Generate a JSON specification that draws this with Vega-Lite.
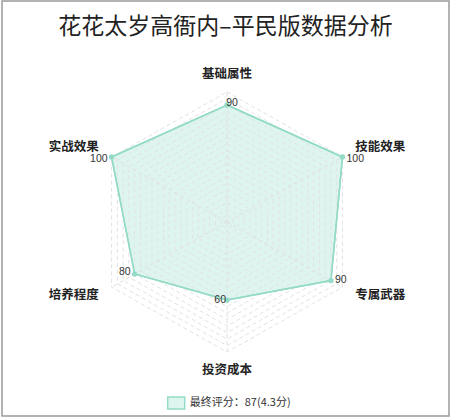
{
 "$schema": "https://vega.github.io/schema/vega-lite/v6.json",
 "width": 453,
 "height": 417,
 "autosize": {"type": "fit", "contains": "padding"},
 "padding": {"left": 2, "top": 1, "right": 4, "bottom": 1},
 "background": "white",
 "config": {"view": {"stroke": "#9a9a9a", "strokeWidth": 1.5}, "font": "Noto Sans CJK SC"},
 "title": {"text": "花花太岁高衙内–平民版数据分析", "fontSize": 23, "fontWeight": "normal", "color": "#222222", "font": "Noto Sans CJK SC", "anchor": "middle", "frame": "group", "offset": -38},
 "datasets": {
  "scores": [
   {"axis": "基础属性", "value": 90, "k": 0, "series": "最终评分：87(4.3分)"},
   {"axis": "技能效果", "value": 100, "k": 1, "series": "最终评分：87(4.3分)"},
   {"axis": "专属武器", "value": 90, "k": 2, "series": "最终评分：87(4.3分)"},
   {"axis": "投资成本", "value": 60, "k": 3, "series": "最终评分：87(4.3分)"},
   {"axis": "培养程度", "value": 80, "k": 4, "series": "最终评分：87(4.3分)"},
   {"axis": "实战效果", "value": 100, "k": 5, "series": "最终评分：87(4.3分)"}
  ],
  "rings": [
   {"level": 5, "corner": [0,1,2,3,4,5]},
   {"level": 10, "corner": [0,1,2,3,4,5]},
   {"level": 15, "corner": [0,1,2,3,4,5]},
   {"level": 20, "corner": [0,1,2,3,4,5]},
   {"level": 25, "corner": [0,1,2,3,4,5]},
   {"level": 30, "corner": [0,1,2,3,4,5]},
   {"level": 35, "corner": [0,1,2,3,4,5]},
   {"level": 40, "corner": [0,1,2,3,4,5]},
   {"level": 45, "corner": [0,1,2,3,4,5]},
   {"level": 50, "corner": [0,1,2,3,4,5]},
   {"level": 55, "corner": [0,1,2,3,4,5]},
   {"level": 60, "corner": [0,1,2,3,4,5]},
   {"level": 65, "corner": [0,1,2,3,4,5]},
   {"level": 70, "corner": [0,1,2,3,4,5]},
   {"level": 75, "corner": [0,1,2,3,4,5]},
   {"level": 80, "corner": [0,1,2,3,4,5]},
   {"level": 85, "corner": [0,1,2,3,4,5]},
   {"level": 90, "corner": [0,1,2,3,4,5]},
   {"level": 95, "corner": [0,1,2,3,4,5]},
   {"level": 100, "corner": [0,1,2,3,4,5]}
  ]
 },
 "encoding": {
  "x": {"field": "x", "type": "quantitative", "scale": {"domain": [-168.8, 166.5], "nice": false, "zero": false}, "axis": null},
  "y": {"field": "y", "type": "quantitative", "scale": {"domain": [-149.2, 170], "nice": false, "zero": false}, "axis": null}
 },
 "layer": [
  {
   "data": {"name": "scores"},
   "transform": [
    {"calculate": "datum.k*PI/3", "as": "a"},
    {"calculate": "datum.value*sin(datum.a)", "as": "x"},
    {"calculate": "datum.value*cos(datum.a)", "as": "y"}
   ],
   "mark": {"type": "line", "interpolate": "linear-closed", "fill": "#def5ef", "fillOpacity": 1, "strokeWidth": 1.5},
   "encoding": {
    "order": {"field": "k", "type": "quantitative"},
    "stroke": {"field": "series", "type": "nominal", "scale": {"range": ["#93dbc6"]},
     "legend": {"orient": "none", "legendX": 164.7, "legendY": 392.5, "title": null, "padding": 0,
      "symbolType": "M-1,-0.7H1V0.7H-1Z", "symbolSize": 289, "labelOffset": 4,
      "symbolStrokeWidth": 1.5, "symbolOpacity": 1,
      "labelFontSize": 11, "labelColor": "#333333", "labelFont": "Noto Sans CJK SC"}}
   }
  },
  {
   "data": {"name": "rings"},
   "transform": [
    {"flatten": ["corner"]},
    {"calculate": "datum.corner*PI/3", "as": "a"},
    {"calculate": "datum.level*sin(datum.a)", "as": "x"},
    {"calculate": "datum.level*cos(datum.a)", "as": "y"}
   ],
   "mark": {"type": "line", "interpolate": "linear-closed", "stroke": "#e2e2e2", "strokeWidth": 1, "strokeDash": [4, 3]},
   "encoding": {"detail": {"field": "level", "type": "nominal"}, "order": {"field": "corner", "type": "quantitative"}}
  },
  {
   "data": {"name": "scores"},
   "transform": [
    {"calculate": "datum.k*PI/3", "as": "a"},
    {"calculate": "0", "as": "x"},
    {"calculate": "0", "as": "y"},
    {"calculate": "100*sin(datum.a)", "as": "x2"},
    {"calculate": "100*cos(datum.a)", "as": "y2"}
   ],
   "mark": {"type": "rule", "stroke": "#e0e0e0", "strokeWidth": 1, "strokeDash": [4, 3]},
   "encoding": {"x2": {"field": "x2"}, "y2": {"field": "y2"}}
  },
  {
   "data": {"name": "scores"},
   "transform": [
    {"calculate": "datum.k*PI/3", "as": "a"},
    {"calculate": "datum.value*sin(datum.a)", "as": "x"},
    {"calculate": "datum.value*cos(datum.a)", "as": "y"}
   ],
   "mark": {"type": "line", "interpolate": "linear-closed", "stroke": "#93dbc6", "strokeWidth": 1.5},
   "encoding": {"order": {"field": "k", "type": "quantitative"}}
  },
  {
   "data": {"name": "scores"},
   "transform": [
    {"calculate": "datum.k*PI/3", "as": "a"},
    {"calculate": "datum.value*sin(datum.a)", "as": "x"},
    {"calculate": "datum.value*cos(datum.a)", "as": "y"}
   ],
   "mark": {"type": "point", "filled": true, "size": 28, "color": "#93dbc6", "opacity": 1}
  },
  {
   "data": {"name": "scores"},
   "transform": [
    {"filter": "datum.k == 0 || datum.k == 3"},
    {"calculate": "datum.k*PI/3", "as": "a"},
    {"calculate": "113*sin(datum.a)", "as": "x"},
    {"calculate": "113.5*cos(datum.a)", "as": "y"}
   ],
   "mark": {"type": "text", "align": "center", "baseline": "middle", "fontSize": 12.5, "fontWeight": "bold", "color": "#222222", "font": "Noto Sans CJK SC"},
   "encoding": {"text": {"field": "axis"}}
  },
  {
   "data": {"name": "scores"},
   "transform": [
    {"filter": "datum.k == 1 || datum.k == 2"},
    {"calculate": "datum.k*PI/3", "as": "a"},
    {"calculate": "111*sin(datum.a)", "as": "x"},
    {"calculate": "datum.k == 1 ? 58 : -56", "as": "y"}
   ],
   "mark": {"type": "text", "align": "left", "baseline": "middle", "fontSize": 12.5, "fontWeight": "bold", "color": "#222222", "font": "Noto Sans CJK SC"},
   "encoding": {"text": {"field": "axis"}}
  },
  {
   "data": {"name": "scores"},
   "transform": [
    {"filter": "datum.k == 4 || datum.k == 5"},
    {"calculate": "datum.k*PI/3", "as": "a"},
    {"calculate": "111*sin(datum.a)", "as": "x"},
    {"calculate": "datum.k == 5 ? 58 : -56", "as": "y"}
   ],
   "mark": {"type": "text", "align": "right", "baseline": "middle", "fontSize": 12.5, "fontWeight": "bold", "color": "#222222", "font": "Noto Sans CJK SC"},
   "encoding": {"text": {"field": "axis"}}
  },
  {
   "data": {"name": "scores"},
   "transform": [
    {"filter": "datum.k == 0"},
    {"calculate": "datum.k*PI/3", "as": "a"},
    {"calculate": "datum.value*sin(datum.a)", "as": "x"},
    {"calculate": "datum.value*cos(datum.a)", "as": "y"}
   ],
   "mark": {"type": "text", "align": "center", "baseline": "middle", "dx": 5, "dy": -2, "fontSize": 10.5, "color": "#333333", "font": "Liberation Sans"},
   "encoding": {"text": {"field": "value"}}
  },
  {
   "data": {"name": "scores"},
   "transform": [
    {"filter": "datum.k == 1"},
    {"calculate": "datum.k*PI/3", "as": "a"},
    {"calculate": "datum.value*sin(datum.a)", "as": "x"},
    {"calculate": "datum.value*cos(datum.a)", "as": "y"}
   ],
   "mark": {"type": "text", "align": "left", "baseline": "middle", "dx": 4, "dy": 2, "fontSize": 10.5, "color": "#333333", "font": "Liberation Sans"},
   "encoding": {"text": {"field": "value"}}
  },
  {
   "data": {"name": "scores"},
   "transform": [
    {"filter": "datum.k == 2"},
    {"calculate": "datum.k*PI/3", "as": "a"},
    {"calculate": "datum.value*sin(datum.a)", "as": "x"},
    {"calculate": "datum.value*cos(datum.a)", "as": "y"}
   ],
   "mark": {"type": "text", "align": "left", "baseline": "middle", "dx": 4, "dy": -1, "fontSize": 10.5, "color": "#333333", "font": "Liberation Sans"},
   "encoding": {"text": {"field": "value"}}
  },
  {
   "data": {"name": "scores"},
   "transform": [
    {"filter": "datum.k == 3"},
    {"calculate": "datum.k*PI/3", "as": "a"},
    {"calculate": "datum.value*sin(datum.a)", "as": "x"},
    {"calculate": "datum.value*cos(datum.a)", "as": "y"}
   ],
   "mark": {"type": "text", "align": "right", "baseline": "middle", "dx": -1, "dy": 0, "fontSize": 10.5, "color": "#333333", "font": "Liberation Sans"},
   "encoding": {"text": {"field": "value"}}
  },
  {
   "data": {"name": "scores"},
   "transform": [
    {"filter": "datum.k == 4"},
    {"calculate": "datum.k*PI/3", "as": "a"},
    {"calculate": "datum.value*sin(datum.a)", "as": "x"},
    {"calculate": "datum.value*cos(datum.a)", "as": "y"}
   ],
   "mark": {"type": "text", "align": "right", "baseline": "middle", "dx": -4, "dy": -2, "fontSize": 10.5, "color": "#333333", "font": "Liberation Sans"},
   "encoding": {"text": {"field": "value"}}
  },
  {
   "data": {"name": "scores"},
   "transform": [
    {"filter": "datum.k == 5"},
    {"calculate": "datum.k*PI/3", "as": "a"},
    {"calculate": "datum.value*sin(datum.a)", "as": "x"},
    {"calculate": "datum.value*cos(datum.a)", "as": "y"}
   ],
   "mark": {"type": "text", "align": "right", "baseline": "middle", "dx": -4, "dy": 2, "fontSize": 10.5, "color": "#333333", "font": "Liberation Sans"},
   "encoding": {"text": {"field": "value"}}
  }
 ]
}
